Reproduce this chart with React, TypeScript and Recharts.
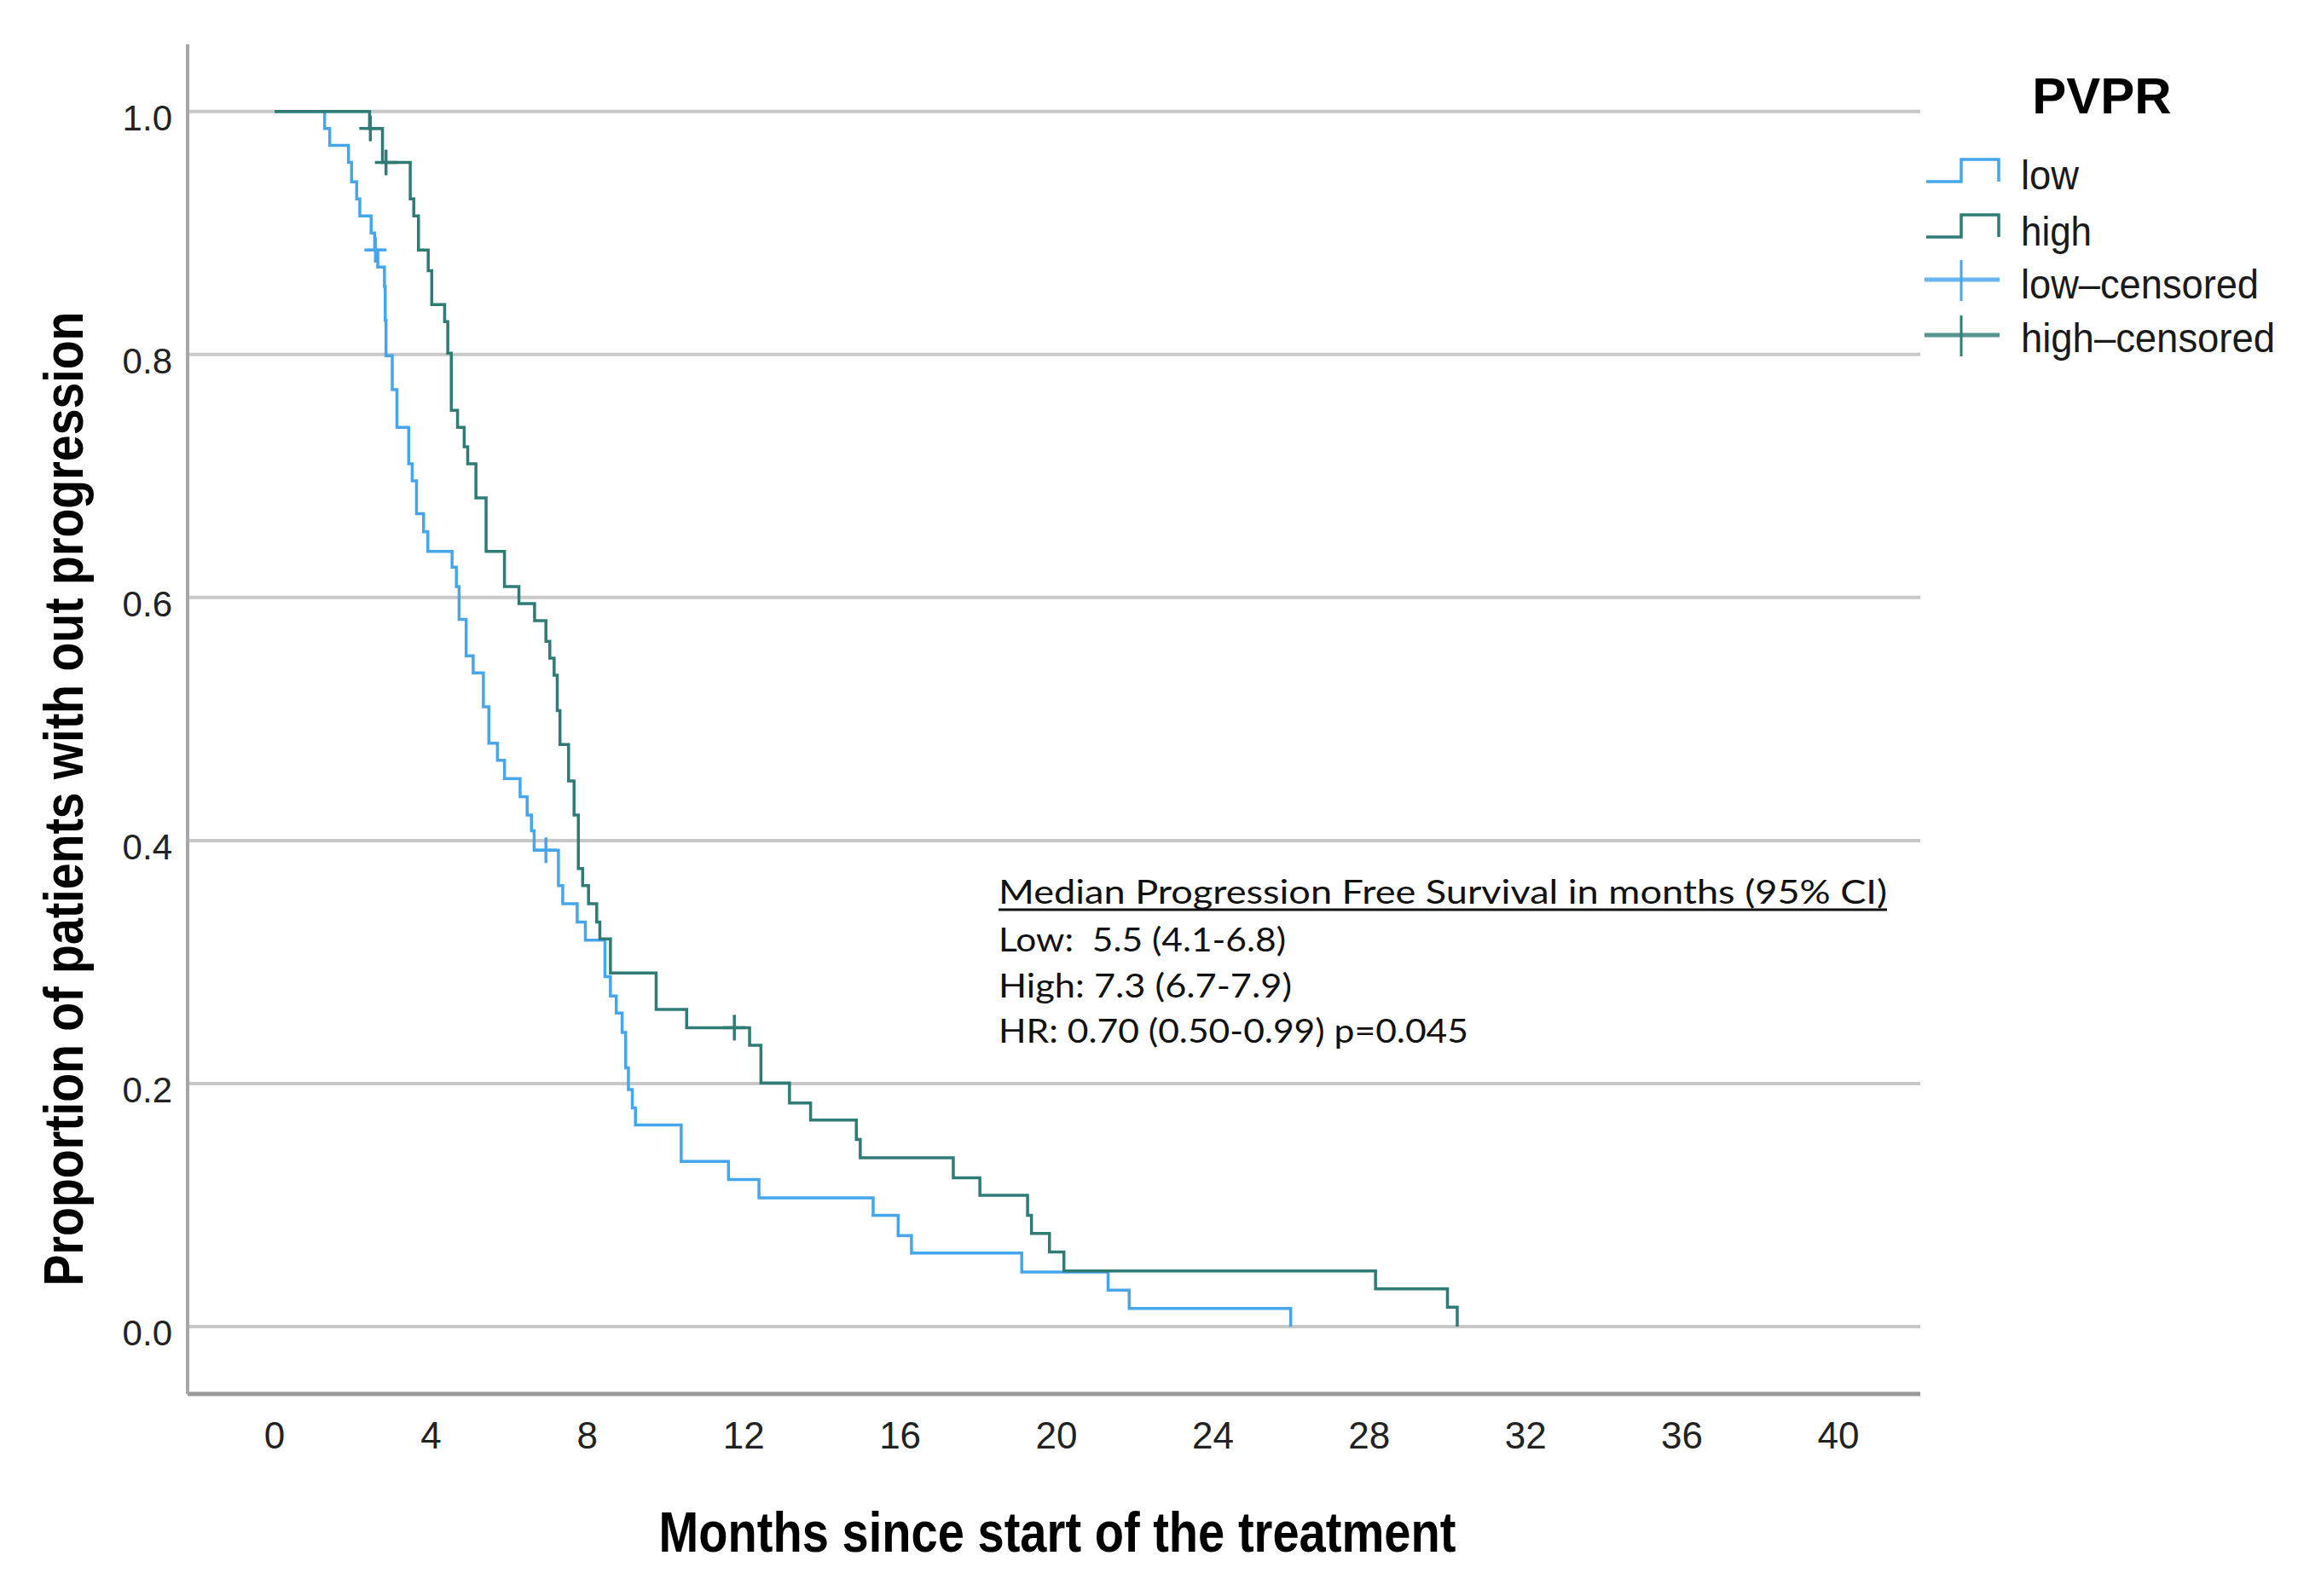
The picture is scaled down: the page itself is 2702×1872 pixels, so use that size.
import { ComposedChart, Line, XAxis, YAxis, ReferenceLine } from 'recharts'

// Kaplan-Meier steps: time of drop (months) and survival after the drop
const lowTimes = [0, 1.28, 1.41, 1.89, 1.97, 2.1, 2.18, 2.47, 2.56, 2.64, 2.81, 2.83, 2.85, 3.01, 3.13, 3.43, 3.52, 3.63, 3.81, 3.92, 4.54, 4.65, 4.72, 4.9, 5.08, 5.34, 5.48, 5.7, 5.88, 6.28, 6.46, 6.57, 6.64, 7.26, 7.37, 7.74, 7.95, 8.45, 8.59, 8.74, 8.89, 8.98, 9.05, 9.15, 9.23, 10.4, 11.61, 12.39, 15.31, 15.95, 16.29, 19.11, 21.32, 21.86, 25.99]
const lowSurv = [1.0, 0.986, 0.972, 0.958, 0.942, 0.928, 0.914, 0.9, 0.886, 0.872, 0.856, 0.828, 0.799, 0.771, 0.74, 0.71, 0.696, 0.669, 0.654, 0.638, 0.625, 0.609, 0.582, 0.552, 0.538, 0.51, 0.48, 0.466, 0.451, 0.436, 0.421, 0.408, 0.392, 0.363, 0.348, 0.333, 0.318, 0.288, 0.272, 0.258, 0.242, 0.213, 0.195, 0.18, 0.166, 0.136, 0.121, 0.106, 0.0915, 0.075, 0.0606, 0.045, 0.03, 0.015, 0]

const highTimes = [0, 2.43, 2.76, 3.47, 3.56, 3.68, 3.93, 4.02, 4.35, 4.43, 4.52, 4.68, 4.85, 4.94, 5.15, 5.41, 5.88, 6.25, 6.65, 6.94, 7.04, 7.15, 7.23, 7.3, 7.52, 7.66, 7.77, 7.88, 8.03, 8.24, 8.32, 8.59, 9.76, 10.54, 12.15, 12.44, 13.17, 13.71, 14.88, 14.98, 17.36, 18.04, 19.26, 19.36, 19.82, 20.19, 28.16, 30.0, 30.25]
const highSurv = [1.0, 0.986, 0.958, 0.928, 0.914, 0.886, 0.869, 0.841, 0.827, 0.801, 0.754, 0.74, 0.724, 0.71, 0.682, 0.638, 0.609, 0.595, 0.581, 0.564, 0.55, 0.536, 0.507, 0.479, 0.449, 0.421, 0.377, 0.363, 0.348, 0.333, 0.319, 0.291, 0.261, 0.246, 0.2315, 0.2005, 0.184, 0.17, 0.154, 0.139, 0.1225, 0.108, 0.0915, 0.0767, 0.0614, 0.0458, 0.031, 0.0159, 0]

const lowCensorTimes = [2.58, 6.94]
const lowCensorSurv = [0.886, 0.392]
const highCensorTimes = [2.45, 2.85, 11.76]
const highCensorSurv = [0.986, 0.958, 0.246]

const xTicks = [0, 4, 8, 12, 16, 20, 24, 28, 32, 36, 40]
const yTicks = [0, 0.2, 0.4, 0.6, 0.8, 1.0]

const legendLabels = ['low', 'high', 'low–censored', 'high–censored']
const statLines = ['Low:  5.5 (4.1-6.8)', 'High: 7.3 (6.7-7.9)', 'HR: 0.70 (0.50-0.99) p=0.045']

const toPoints = (ts: number[], ps: number[]) => ts.map((t, i) => ({ t, p: ps[i] }))

const lowData = toPoints(lowTimes, lowSurv)
const highData = toPoints(highTimes, highSurv)
const lowCensor = toPoints(lowCensorTimes, lowCensorSurv)
const highCensor = toPoints(highCensorTimes, highCensorSurv)

const LOW = '#45a6ee'
const HIGH = '#2f7b75'

function censorDot(color: string) {
  return (props: any) => {
    const { cx, cy, index } = props
    if (cx == null || cy == null) return <g key={index} />
    return (
      <g key={index}>
        <line x1={cx - 13} x2={cx + 13} y1={cy} y2={cy} stroke={color} strokeWidth={3.5} />
        <line x1={cx} x2={cx} y1={cy - 15} y2={cy + 15} stroke={color} strokeWidth={3.5} />
      </g>
    )
  }
}

function YTick(props: any) {
  const { x, y, payload } = props
  return (
    <text x={x} y={y + 22} textAnchor="end" fontSize={42} fill="#222" fontFamily="Liberation Sans, Arial, sans-serif">
      {Number(payload.value).toFixed(1)}
    </text>
  )
}

function XTick(props: any) {
  const { x, y, payload } = props
  return (
    <text x={x} y={y + 16} textAnchor="middle" fontSize={44} fill="#222" fontFamily="Liberation Sans, Arial, sans-serif">
      {payload.value}
    </text>
  )
}

export default function App() {
  const legendY = [205, 271, 333, 396]
  const legendW = [68, 83, 279, 298]
  const statY = [1116, 1170, 1223]
  const statW = [337, 344, 551]

  return (
    <div style={{ position: 'absolute', left: 0, top: 0, width: 2702, height: 1872, background: '#fff' }}>
      <ComposedChart width={2702} height={1872} margin={{ top: 52, right: 450, left: 120, bottom: 177 }}>
        <XAxis
          dataKey="t"
          type="number"
          domain={[-2.225, 42.094]}
          ticks={xTicks}
          allowDataOverflow
          height={60}
          axisLine={{ stroke: '#9a9a9a', strokeWidth: 5 }}
          tickLine={false}
          tickMargin={42}
          tick={<XTick />}
        />
        <YAxis
          type="number"
          domain={[-0.0554, 1.0552]}
          ticks={yTicks}
          allowDataOverflow
          width={100}
          axisLine={{ stroke: '#a6a6a6', strokeWidth: 4 }}
          tickLine={false}
          tickMargin={12}
          tick={<YTick />}
        />
        {yTicks.map((v) => (
          <ReferenceLine key={v} y={v} stroke="#c8c8c8" strokeWidth={4} />
        ))}
        <Line data={lowData} dataKey="p" type="stepAfter" stroke={LOW} strokeWidth={3.5} dot={false} activeDot={false} isAnimationActive={false} />
        <Line data={highData} dataKey="p" type="stepAfter" stroke={HIGH} strokeWidth={3.5} dot={false} activeDot={false} isAnimationActive={false} />
        <Line data={lowCensor} dataKey="p" stroke="none" dot={censorDot(LOW)} activeDot={false} isAnimationActive={false} />
        <Line data={highCensor} dataKey="p" stroke="none" dot={censorDot(HIGH)} activeDot={false} isAnimationActive={false} />
      </ComposedChart>

      <svg width={2702} height={1872} style={{ position: 'absolute', left: 0, top: 0, pointerEvents: 'none' }}>
        <g fontFamily="Liberation Sans, Arial, sans-serif" fill="#000">
          <text x={1240} y={1820} textAnchor="middle" fontSize={66} fontWeight="bold" textLength={935} lengthAdjust="spacingAndGlyphs">
            Months since start of the treatment
          </text>
          <text
            transform="translate(97 937) rotate(-90)"
            textAnchor="middle"
            fontSize={64}
            fontWeight="bold"
            textLength={1143}
            lengthAdjust="spacingAndGlyphs"
          >
            Proportion of patients with out progression
          </text>
          <text x={2465} y={133} textAnchor="middle" fontSize={60} fontWeight="bold">PVPR</text>
          {legendLabels.map((lab, i) => (
            <text key={lab} x={2370} y={legendY[i] + 17} fontSize={48} fill="#1a1a1a" textLength={legendW[i]} lengthAdjust="spacingAndGlyphs">
              {lab}
            </text>
          ))}
        </g>

        <path d="M2259 213 H2300 V187 H2344 V213" fill="none" stroke={LOW} strokeWidth={3.5} />
        <path d="M2259 278 H2300 V252 H2344 V278" fill="none" stroke={HIGH} strokeWidth={3.5} />
        <line x1={2257} x2={2345} y1={328} y2={328} stroke={LOW} strokeWidth={5} opacity={0.8} />
        <line x1={2300} x2={2300} y1={305} y2={353} stroke={LOW} strokeWidth={3} />
        <line x1={2257} x2={2345} y1={393} y2={393} stroke={HIGH} strokeWidth={5} opacity={0.8} />
        <line x1={2300} x2={2300} y1={370} y2={418} stroke={HIGH} strokeWidth={3} />

        <g fontFamily="Lato, Carlito, sans-serif" fill="#111" fontSize={38}>
          <text x={1171} y={1060} textLength={1042} lengthAdjust="spacingAndGlyphs">
            Median Progression Free Survival  in months (95% CI)
          </text>
          <line x1={1171} x2={2213} y1={1067} y2={1067} stroke="#111" strokeWidth={3} />
          {statLines.map((s, i) => (
            <text key={s} x={1171} y={statY[i]} textLength={statW[i]} lengthAdjust="spacingAndGlyphs" style={{ whiteSpace: 'pre' }}>
              {s}
            </text>
          ))}
        </g>
      </svg>
    </div>
  )
}
